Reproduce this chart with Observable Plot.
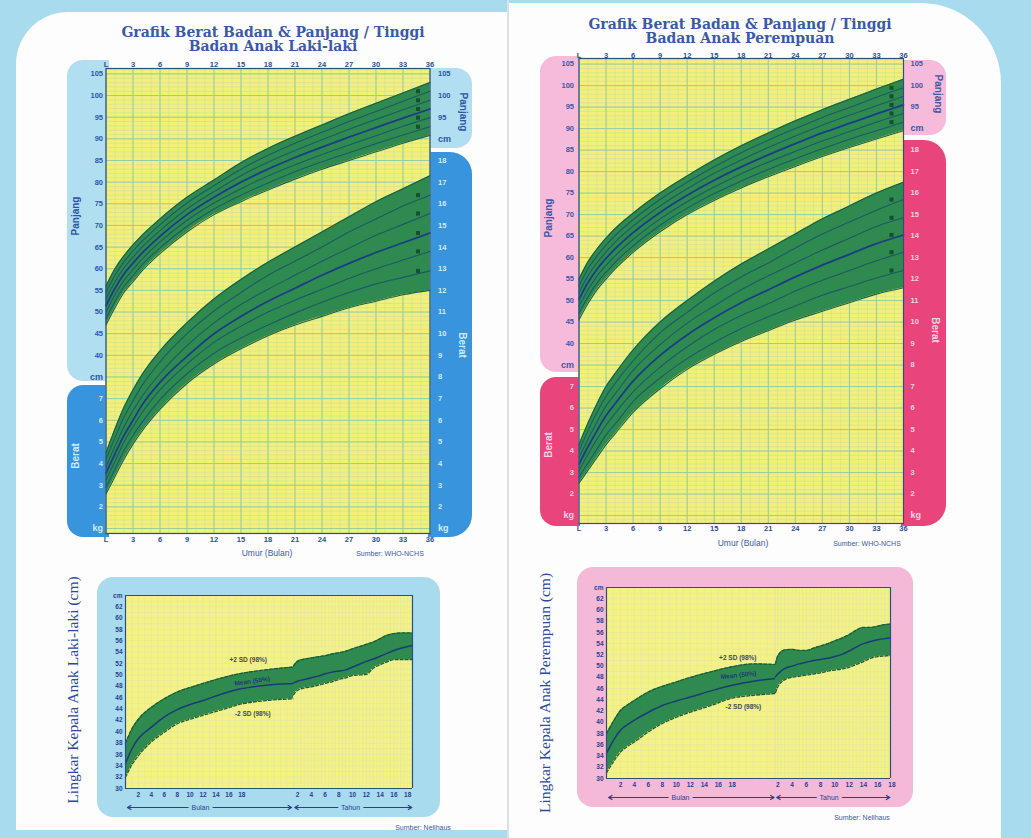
<!DOCTYPE html>
<html><head><meta charset="utf-8">
<script src="https://cdn.jsdelivr.net/npm/d3@7"></script>
<script src="https://cdn.jsdelivr.net/npm/@observablehq/plot@0.6"></script>
<style>
body{margin:0;width:1031px;height:838px;background:#a8dbed;position:relative;overflow:hidden;font-family:"Liberation Sans",Arial,sans-serif}
.abs{position:absolute}
</style></head>
<body>
<script>
// ---------------- DATA ----------------
const AGES = [0,1,2,3,4,6,9,12,15,18,21,24,27,30,33,36];           // months
const X_TICK_MONTHS = [0,3,6,9,12,15,18,21,24,27,30,33,36];
const X_TICK_LABELS = ["L","3","6","9","12","15","18","21","24","27","30","33","36"];
const LEFT_LENGTH_TICKS = [35,40,45,50,55,60,65,70,75,80,85,90,95,100,105];   // 35 -> "cm"
const RIGHT_LENGTH_TICKS = [90,95,100,105];                                  // 90 -> "cm"
const LEFT_WEIGHT_TICKS = [1,2,3,4,5,6,7];                                   // 1 -> "kg"
const RIGHT_WEIGHT_TICKS = [1,2,3,4,5,6,7,8,9,10,11,12,13,14,15,16,17,18];   // 1 -> "kg"

// rows: top edge, +2, +1, median, -1, -2, bottom edge
const BOY_LENGTH = [
 [56,60,63,65.5,67.7,71.5,76.5,80.5,84.5,87.8,90.6,93.2,95.8,98.2,100.6,103],
 [54.5,58.5,61.6,64.1,66.3,70.2,75.2,79.2,83,86.2,89,91.5,94,96.3,98.7,101],
 [53,57,60.2,62.7,65,68.8,73.8,77.8,81.5,84.6,87.3,89.8,92.2,94.5,96.7,98.9],
 [51.5,55.5,58.8,61.3,63.6,67.5,72.5,76.5,80,83,85.7,88.1,90.4,92.6,94.8,96.9],
 [50,54,57.3,59.8,62.2,66.2,71.2,75.2,78.5,81.4,84,86.4,88.6,90.7,92.9,94.9],
 [48.5,52.5,55.9,58.4,60.9,64.8,69.8,73.8,77,79.8,82.4,84.7,86.8,88.9,90.9,92.8],
 [47,51,54.5,57,59.5,63.5,68.5,72.5,75.5,78.2,80.7,83,85,87,89,90.8]
];
const BOY_WEIGHT = [
 [4.5,5.6,6.6,7.4,8.1,9.2,10.5,11.6,12.5,13.3,14.0,14.7,15.4,16.1,16.7,17.3],
 [4.2,5.2,6.15,6.9,7.6,8.7,10.0,11.05,11.9,12.7,13.35,14.0,14.7,15.3,15.9,16.4],
 [3.85,4.8,5.7,6.45,7.1,8.15,9.45,10.5,11.35,12.05,12.7,13.35,13.95,14.55,15.05,15.55],
 [3.55,4.45,5.3,6.0,6.7,7.75,8.95,10.0,10.8,11.5,12.1,12.7,13.25,13.75,14.2,14.65],
 [3.25,4.1,5.0,5.7,6.35,7.4,8.6,9.6,10.35,11.0,11.55,12.05,12.55,13.0,13.4,13.8],
 [2.9,3.75,4.6,5.3,5.9,6.95,8.15,9.1,9.8,10.4,10.95,11.45,11.9,12.3,12.6,12.9],
 [2.6,3.4,4.2,4.9,5.5,6.5,7.7,8.6,9.3,9.9,10.4,10.8,11.2,11.5,11.8,12.0]
];
const GIRL_LENGTH = [
 [55,59,62,64.5,66.7,70.3,75,79,82.7,86,89,91.8,94.4,96.8,99.2,101.5],
 [53.4,57.4,60.4,62.9,65.1,68.8,73.5,77.5,81.1,84.4,87.3,90.0,92.6,94.9,97.3,99.5],
 [51.8,55.8,58.8,61.3,63.6,67.3,72,76,79.6,82.7,85.6,88.3,90.8,93.1,95.3,97.5],
 [50.3,54.2,57.3,59.8,62.0,65.8,70.5,74.5,78.0,81.1,83.9,86.5,89.0,91.2,93.4,95.5],
 [48.7,52.5,55.7,58.2,60.4,64.2,69,73,76.4,79.5,82.2,84.7,87.1,89.3,91.5,93.5],
 [47.1,50.9,54.1,56.6,58.9,62.7,67.5,71.5,74.9,77.8,80.5,83.0,85.3,87.5,89.5,91.5],
 [45.5,49.3,52.5,55,57.3,61.2,66,70,73.3,76.2,78.8,81.2,83.5,85.6,87.6,89.5]
];
const GIRL_WEIGHT = [
 [4.3,5.3,6.2,7.0,7.6,8.7,10.0,11.0,11.9,12.7,13.4,14.1,14.8,15.4,16.0,16.5],
 [4.0,4.95,5.8,6.55,7.15,8.2,9.5,10.45,11.35,12.1,12.75,13.45,14.1,14.65,15.2,15.7],
 [3.7,4.55,5.35,6.1,6.65,7.75,8.95,9.95,10.75,11.5,12.15,12.75,13.35,13.9,14.45,14.85],
 [3.4,4.2,4.95,5.65,6.2,7.25,8.45,9.4,10.2,10.9,11.5,12.1,12.65,13.15,13.65,14.05],
 [3.1,3.85,4.55,5.2,5.75,6.75,7.9,8.85,9.65,10.3,10.85,11.45,11.95,12.4,12.85,13.25],
 [2.8,3.45,4.1,4.75,5.25,6.3,7.4,8.3,9.05,9.7,10.25,10.75,11.25,11.65,12.05,12.4],
 [2.5,3.1,3.7,4.3,4.8,5.8,6.9,7.8,8.5,9.1,9.6,10.1,10.5,10.9,11.3,11.6]
];

// Head circumference (Nellhaus): months section and years section
const HEAD_Y_TICKS = [30,32,34,36,38,40,42,44,46,48,50,52,54,56,58,60,62,64];   // 64 -> "cm"
const HEAD_MONTH_TICKS = [2,4,6,8,10,12,14,16,18];
const HEAD_YEAR_TICKS = [2,4,6,8,10,12,14,16,18];

const BOY_HEAD_MONTHS = [0,1,2,3,4,6,8,10,12,15,18,21,24,26];
const BOY_HEAD_M_MEAN = [34.4,37.0,38.8,39.9,40.8,42.6,43.9,44.8,45.5,46.7,47.6,48.1,48.4,48.5];
const BOY_HEAD_M_UP   = [38.0,40.5,42.2,43.4,44.3,45.8,47.0,47.8,48.5,49.5,50.3,50.8,51.2,51.4];
const BOY_HEAD_M_LO   = [32.0,34.2,35.8,37.1,38.2,39.9,41.4,42.2,42.9,43.9,44.9,45.4,45.7,45.8];
const BOY_HEAD_YEARS  = [1.42,2,3,4,5,6,7,8,9,10,11,12,13,14,15,16,17,18,18.7];
const BOY_HEAD_Y_MEAN = [48.6,48.9,49.2,49.5,49.8,50.2,50.5,50.7,50.9,51.4,51.9,52.4,52.8,53.3,53.8,54.3,54.7,55.0,55.2];
const BOY_HEAD_Y_UP   = [51.6,52.4,52.8,53.0,53.2,53.4,53.7,53.9,54.2,54.6,55.0,55.4,55.8,56.4,57.0,57.3,57.4,57.4,57.4];
const BOY_HEAD_Y_LO   = [46.5,47.3,47.7,47.9,48.2,48.5,48.8,49.2,49.5,49.9,50.0,50.1,51.2,51.8,52.3,52.7,52.7,52.7,52.7];

const GIRL_HEAD_MONTHS = [0,1,2,3,4,6,8,10,12,15,18,21,24.2];
const GIRL_HEAD_M_MEAN = [34.5,36.8,38.6,39.6,40.4,41.8,43.0,43.8,44.5,45.6,46.6,47.3,47.8];
const GIRL_HEAD_M_UP   = [38.0,40.2,42.1,43.1,43.9,45.4,46.4,47.2,48.0,49.0,49.9,50.4,50.3];
const GIRL_HEAD_M_LO   = [31.0,33.0,34.7,35.7,36.5,38.3,39.8,40.9,41.8,43.0,44.3,44.8,45.1];
const GIRL_HEAD_YEARS  = [1.68,2,3,4,5,6,7,8,9,10,11,12,13,14,15,16,17,17.8];
const GIRL_HEAD_Y_MEAN = [48.1,48.6,49.6,50.0,50.4,50.7,51.0,51.2,51.4,51.7,52.1,52.7,53.4,54.0,54.4,54.7,54.9,55.0];
const GIRL_HEAD_Y_UP   = [50.4,51.8,52.9,53.0,52.8,52.8,53.2,53.6,54.0,54.5,55.0,55.6,56.4,56.9,56.9,57.1,57.4,57.5];
const GIRL_HEAD_Y_LO   = [45.3,46.3,47.6,48.0,48.2,48.4,48.6,48.8,49.1,49.3,49.5,49.8,50.3,50.8,51.4,51.7,51.8,51.9];

// ---------------- STYLE ----------------
const YELLOW = "#f3f07a", HEAD_YELLOW = "#f5f284";
const GRID_MINOR = "#c9df98", GRID_MAJOR = "#97cda0";
const GREEN = "#2f8a4f", LINE = "#1c5a68", NAVY = "#1b3c88", EDGE = "#1d5f44";
const FRAME = "#2b4f80";
const FONT = "Liberation Sans, Arial, sans-serif";

// ---------------- HELPERS ----------------
function box(x, y, w, h, bg, radius) {
  const d = document.createElement("div");
  Object.assign(d.style, {position:"absolute", left:x+"px", top:y+"px", width:w+"px", height:h+"px", background:bg, borderRadius:radius || "0"});
  document.body.appendChild(d); return d;
}
function label(text, x, y, style = {}, rot = 0) {
  const d = document.createElement("div");
  d.textContent = text;
  Object.assign(d.style, {position:"absolute", left:x+"px", top:y+"px", transform:`translate(-50%,-50%) rotate(${rot}deg)`, whiteSpace:"nowrap", lineHeight:"1", ...style});
  document.body.appendChild(d); return d;
}
function place(svg, x, y) {
  Object.assign(svg.style, {position:"absolute", left:x+"px", top:y+"px"});
  document.body.appendChild(svg);
}
const toLong = rows => rows.flatMap((row, s) => row.map((v, j) => ({age: AGES[j], v, s})));
const toBand = rows => AGES.map((age, j) => ({age, hi: rows[0][j], lo: rows[rows.length - 1][j]}));
function bandMarks(rows) {
  const long = toLong(rows);
  return [
    Plot.areaY(toBand(rows), {x: "age", y1: "lo", y2: "hi", fill: GREEN, curve: "monotone-x"}),
    Plot.line(long.filter(d => d.s !== 3), {x: "age", y: "v", z: "s", stroke: d => (d.s === 0 || d.s === 6) ? EDGE : LINE, strokeWidth: 1.1, curve: "monotone-x"}),
    Plot.line(long.filter(d => d.s === 3), {x: "age", y: "v", stroke: NAVY, strokeWidth: 1.8, curve: "monotone-x"}),
    Plot.dot(long.filter(d => d.age === 36 && d.s > 0 && d.s < 6), {x: "age", y: "v", symbol: "square", r: 2.3, fill: "#17502c", dx: -12})
  ];
}

// ---------------- PAGE BACKGROUND ----------------
box(16, 12, 492, 818, "#fdfdfd", "52px 0 0 0");
box(509, 3, 492, 835, "#fdfdfd", "0 80px 0 0");
box(507, 0, 2, 838, "#d4e3e8");

// ---------------- MAIN GROWTH CHART ----------------
function mainChart(o) {
  box(o.pl.x, o.pl.y1, o.pl.w, o.pl.y2 - o.pl.y1, o.light, "16px 0 0 16px");
  box(o.pd.x, o.pd.y1, o.pd.w, o.pd.y2 - o.pd.y1, o.dark, "16px 0 0 16px");
  box(o.prl.x, o.prl.y1, o.prl.w, o.prl.y2 - o.prl.y1, o.light, "0 16px 16px 0");
  box(o.prd.x, o.prd.y1, o.prd.w, o.prd.y2 - o.prd.y1, o.dark, "0 22px 22px 0");

  const common = {width: o.w, height: o.h, marginLeft: o.ml, marginRight: o.mr, marginTop: o.mt, marginBottom: o.mb,
    style: {background: "transparent", overflow: "visible", fontFamily: FONT},
    x: {domain: [0, 36], axis: null}};
  const kgDom = o.kgDomain;
  const cmDom = kgDom.map(k => 5 * k - 5);      // printed chart: 1 kg step == 5 cm step, 18 kg level == 85 cm
  const minor = d3.range(Math.ceil(kgDom[0] * 5), Math.floor(kgDom[1] * 5) + 1).map(i => i / 5);
  const txt = {fontSize: 7.5, fontWeight: "bold"};

  const weightLayer = Plot.plot({...common, y: {domain: kgDom, axis: null}, marks: [
    Plot.frame({fill: YELLOW, stroke: null}),
    Plot.ruleX(d3.range(0, 37), {stroke: GRID_MINOR, strokeWidth: 0.6}),
    Plot.ruleY(minor, {stroke: GRID_MINOR, strokeWidth: 0.6}),
    Plot.ruleX(X_TICK_MONTHS, {stroke: GRID_MAJOR, strokeWidth: 1}),
    Plot.ruleY(d3.range(Math.ceil(kgDom[0]), Math.floor(kgDom[1]) + 1), {stroke: GRID_MAJOR, strokeWidth: 1}),
    ...bandMarks(o.weight),
    Plot.text(X_TICK_MONTHS, {...txt, x: d => d, text: (d, i) => X_TICK_LABELS[i], frameAnchor: "top", dy: o.topDy, fill: o.axisText}),
    Plot.text(X_TICK_MONTHS, {...txt, x: d => d, text: (d, i) => X_TICK_LABELS[i], frameAnchor: "bottom", dy: o.botDy, fill: o.axisText}),
    Plot.text(LEFT_WEIGHT_TICKS, {...txt, y: d => d, text: d => d === 1 ? "kg" : d, frameAnchor: "left", textAnchor: "end", dx: o.leftDx, fill: o.darkText, fontSize: d => d === 1 ? 9 : 7.5}),
    Plot.text(o.rightWeightTicks, {...txt, y: d => d, text: d => d === 1 ? "kg" : d, frameAnchor: "right", textAnchor: "start", dx: o.rightDx, fill: o.darkText, fontSize: d => d === 1 ? 9 : 7.5})
  ]});
  const lengthLayer = Plot.plot({...common, y: {domain: cmDom, axis: null}, marks: [
    ...bandMarks(o.length),
    Plot.frame({stroke: FRAME, strokeWidth: 1.2}),
    Plot.text(LEFT_LENGTH_TICKS, {...txt, y: d => d, text: d => d === 35 ? "cm" : d, frameAnchor: "left", textAnchor: "end", dx: o.leftDx, fill: o.lightText, fontSize: d => d === 35 ? 9 : 7.5}),
    Plot.text(RIGHT_LENGTH_TICKS, {...txt, y: d => d, text: d => d === 90 ? "cm" : d, frameAnchor: "right", textAnchor: "start", dx: o.rightDx, fill: o.lightText, fontSize: d => d === 90 ? 9 : 7.5})
  ]});
  place(weightLayer, o.x, o.y);
  place(lengthLayer, o.x, o.y);

  const serif = {fontFamily: "DejaVu Serif, serif", fontWeight: "bold", fontSize: "14px", color: "#3a5aa6"};
  label("Grafik Berat Badan & Panjang / Tinggi", o.titleX, o.titleY, serif);
  label(o.subtitle, o.titleX, o.titleY + 14, serif);
  label("Panjang", o.lab.pl[0], o.lab.pl[1], {fontSize: "10px", fontWeight: "bold", color: o.lightText}, -90);
  label("Berat", o.lab.bl[0], o.lab.bl[1], {fontSize: "10px", fontWeight: "bold", color: o.darkText}, -90);
  label("Panjang", o.lab.pr[0], o.lab.pr[1], {fontSize: "10px", fontWeight: "bold", color: o.lightText}, 90);
  label("Berat", o.lab.br[0], o.lab.br[1], {fontSize: "10px", fontWeight: "bold", color: o.darkText}, 90);
  label("Umur (Bulan)", o.lab.umur[0], o.lab.umur[1], {fontSize: "8.5px", color: "#3a5aa8"});
  label("Sumber: WHO-NCHS", o.lab.src[0], o.lab.src[1], {fontSize: "7px", color: "#3a5aa8"});
}

mainChart({
  x: 40, y: 40, w: 450, h: 520, ml: 65.5, mr: 60.5, mt: 28, mb: 27, kgDomain: [0.77, 22.25],
  length: BOY_LENGTH, weight: BOY_WEIGHT, rightWeightTicks: RIGHT_WEIGHT_TICKS,
  light: "#b2def1", dark: "#3894dc",
  pl: {x: 67, y1: 60, y2: 381, w: 42}, pd: {x: 67, y1: 385, y2: 537, w: 42},
  prl: {x: 428, y1: 68, y2: 148, w: 44}, prd: {x: 428, y1: 152, y2: 537, w: 44},
  axisText: "#2a4f9a", lightText: "#2b57a6", darkText: "#d3eafc",
  topDy: -7, botDy: 8, leftDx: -3, rightDx: 8,
  titleX: 273, titleY: 32, subtitle: "Badan Anak Laki-laki",
  lab: {pl: [76, 216], bl: [76, 456], pr: [463, 112], br: [462, 345], umur: [267, 553], src: [390, 553]}
});
mainChart({
  x: 510, y: 30, w: 450, h: 520, ml: 68.5, mr: 57, mt: 28, mb: 27, kgDomain: [0.63, 22.26],
  length: GIRL_LENGTH, weight: GIRL_WEIGHT, rightWeightTicks: RIGHT_WEIGHT_TICKS,
  light: "#f6bada", dark: "#e9457c",
  pl: {x: 540, y1: 56, y2: 372, w: 40}, pd: {x: 540, y1: 377, y2: 526, w: 40},
  prl: {x: 901, y1: 60, y2: 135, w: 45}, prd: {x: 901, y1: 140, y2: 526, w: 45},
  axisText: "#2a4f9a", lightText: "#3e56a8", darkText: "#fbd3e5",
  topDy: -6, botDy: 7, leftDx: -5, rightDx: 7,
  titleX: 740, titleY: 24, subtitle: "Badan Anak Perempuan",
  lab: {pl: [549, 218], bl: [549, 445], pr: [938, 94], br: [935, 330], umur: [743, 543], src: [867, 543]}
});

// ---------------- HEAD CIRCUMFERENCE CHARTS ----------------
function headSection(o, s) {
  const band = s.ages.map((a, i) => ({a, lo: s.lo[i], hi: s.up[i], m: s.mean[i]}));
  const yDom = [30, 64];
  const txt = {fontSize: 6.5, fontWeight: "bold", fill: "#2a3f8f"};
  const marks = [
    Plot.frame({fill: HEAD_YELLOW, stroke: null}),
    Plot.ruleX(s.grid, {stroke: "#dfe6a6", strokeWidth: 0.6}),
    Plot.ruleY(d3.range(30, 65), {stroke: "#dfe6a6", strokeWidth: 0.6}),
    Plot.areaY(band, {x: "a", y1: "lo", y2: "hi", fill: GREEN, curve: "monotone-x"}),
    Plot.line(band, {x: "a", y: "hi", stroke: "#1e5a34", strokeWidth: 1.3, strokeDasharray: "3,2", curve: "monotone-x"}),
    Plot.line(band, {x: "a", y: "lo", stroke: "#1e5a34", strokeWidth: 1.3, strokeDasharray: "3,2", curve: "monotone-x"}),
    Plot.line(band, {x: "a", y: "m", stroke: "#1d3a78", strokeWidth: 1.5, curve: "monotone-x"}),
    Plot.ruleY(yDom, {stroke: FRAME, strokeWidth: 1}),
    Plot.text(s.ticks, {...txt, x: d => d, frameAnchor: "bottom", dy: 8}),
    Plot.arrow([s.span], {x1: "mid", x2: "from", y: yDom[0], dy: 19, stroke: "#2a3f8f", strokeWidth: 1.2, headLength: 5}),
    Plot.arrow([s.span], {x1: "mid", x2: "to", y: yDom[0], dy: 19, stroke: "#2a3f8f", strokeWidth: 1.2, headLength: 5}),
    Plot.text([s.span], {x: "mid", y: yDom[0], dy: 19, text: "label", fontSize: 7, fill: "#2a3f8f", stroke: o.box, strokeWidth: 7})
  ];
  if (s.left) {
    marks.push(
      Plot.ruleX([s.domain[0]], {stroke: FRAME, strokeWidth: 1.2}),
      Plot.text(HEAD_Y_TICKS, {...txt, y: d => d, text: d => d === 64 ? "cm" : d, frameAnchor: "left", textAnchor: "end", dx: -3}),
      Plot.text(o.notes, {x: "a", y: "v", text: "t", rotate: d => d.r, fontSize: 6.5, fontWeight: "bold", fill: d => d.c})
    );
  } else {
    marks.push(Plot.ruleX([s.domain[1]], {stroke: FRAME, strokeWidth: 1.2}));
  }
  return Plot.plot({width: s.w, height: o.h, marginLeft: s.ml, marginRight: s.mr, marginTop: o.mt, marginBottom: o.mb,
    style: {background: "transparent", overflow: "visible", fontFamily: FONT},
    x: {domain: s.domain, axis: null}, y: {domain: yDom, axis: null}, marks});
}
function headChart(o) {
  box(o.x, o.y, o.w, o.h, o.box, "16px");
  place(headSection(o, o.months), o.x, o.y);
  place(headSection(o, o.years), o.divider, o.y);
  label(o.title, o.titleX, o.titleY, {fontFamily: "Liberation Serif, serif", fontSize: "15.5px", color: "#2b4a9c"}, -90);
  label("Sumber: Nellhaus", o.src[0], o.src[1], {fontSize: "7px", color: "#3a5aa8"});
}
headChart({
  x: 97, y: 577, w: 343, h: 240, mt: 18, mb: 29, divider: 293, box: "#a9dbee",
  months: {left: true, ages: BOY_HEAD_MONTHS, mean: BOY_HEAD_M_MEAN, up: BOY_HEAD_M_UP, lo: BOY_HEAD_M_LO,
    domain: [0, 26], w: 196, ml: 28, mr: 0, ticks: HEAD_MONTH_TICKS, grid: d3.range(0, 27),
    span: {from: 0.3, to: 25.7, mid: 11.6, label: "Bulan"}},
  years: {left: false, ages: BOY_HEAD_YEARS, mean: BOY_HEAD_Y_MEAN, up: BOY_HEAD_Y_UP, lo: BOY_HEAD_Y_LO,
    domain: [1.42, 18.7], w: 147, ml: 0, mr: 28, ticks: HEAD_YEAR_TICKS, grid: d3.range(1.5, 18.7, 0.5),
    span: {from: 1.6, to: 18.6, mid: 9.7, label: "Tahun"}},
  notes: [{a: 19, v: 52.6, t: "+2 SD (98%)", r: 0, c: "#3a4a6a"}, {a: 19.6, v: 48.9, t: "Mean (50%)", r: -8, c: "#1d3a78"}, {a: 19.7, v: 43.2, t: "-2 SD (98%)", r: 0, c: "#3a4a6a"}],
  title: "Lingkar Kepala Anak Laki-laki (cm)", titleX: 73, titleY: 690, src: [423, 827]
});
headChart({
  x: 577, y: 567, w: 336, h: 240, mt: 20, mb: 29, divider: 775, box: "#f5b9d8",
  months: {left: true, ages: GIRL_HEAD_MONTHS, mean: GIRL_HEAD_M_MEAN, up: GIRL_HEAD_M_UP, lo: GIRL_HEAD_M_LO,
    domain: [0, 24.2], w: 198, ml: 29, mr: 0, ticks: HEAD_MONTH_TICKS, grid: d3.range(0, 25),
    span: {from: 0.3, to: 24, mid: 10.6, label: "Bulan"}},
  years: {left: false, ages: GIRL_HEAD_YEARS, mean: GIRL_HEAD_Y_MEAN, up: GIRL_HEAD_Y_UP, lo: GIRL_HEAD_Y_LO,
    domain: [1.68, 17.8], w: 138, ml: 0, mr: 23, ticks: HEAD_YEAR_TICKS, grid: d3.range(2, 17.8, 0.5),
    span: {from: 1.85, to: 17.7, mid: 9.2, label: "Tahun"}},
  notes: [{a: 18.8, v: 51.5, t: "+2 SD (98%)", r: 0, c: "#3a4a6a"}, {a: 18.9, v: 48.4, t: "Mean (50%)", r: -6, c: "#1d3a78"}, {a: 19.6, v: 42.8, t: "-2 SD (98%)", r: 0, c: "#3a4a6a"}],
  title: "Lingkar Kepala Anak Perempuan (cm)", titleX: 545, titleY: 693, src: [862, 817]
});
</script>
</body></html>
